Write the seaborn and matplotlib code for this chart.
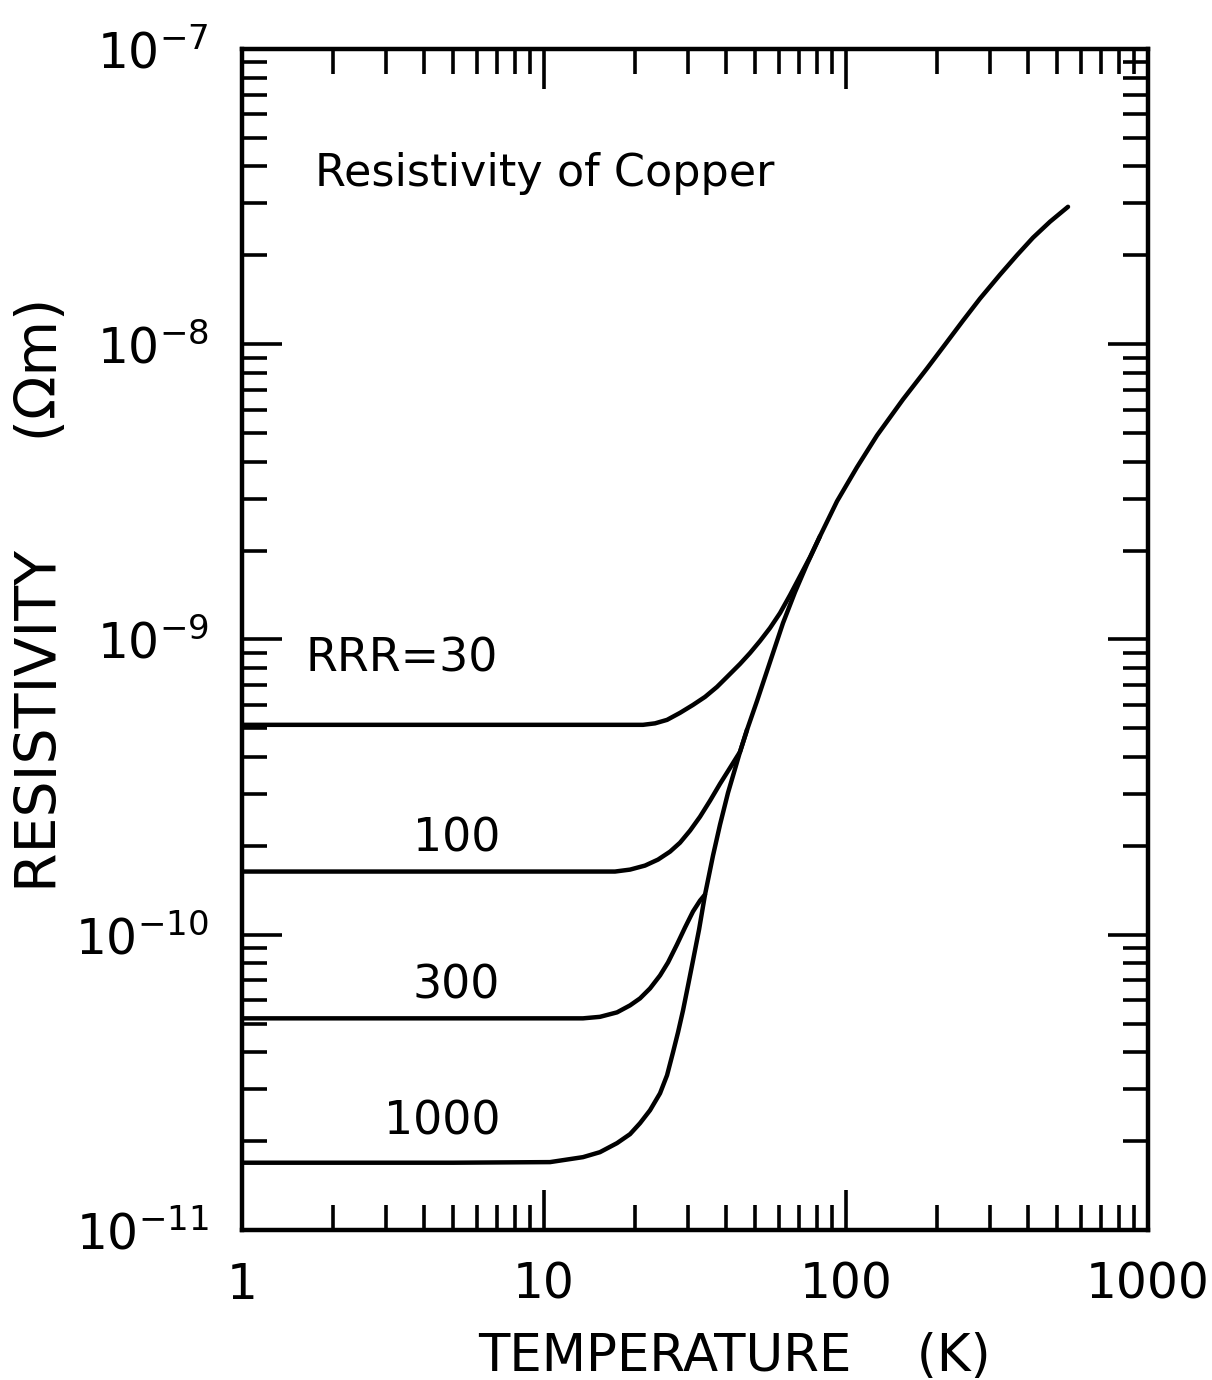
import numpy as np
import pandas as pd
import matplotlib
matplotlib.use("Agg")
import matplotlib.pyplot as plt
import seaborn as sns
from matplotlib.ticker import FixedLocator, FixedFormatter, LogLocator, NullFormatter

# ---------------- data ----------------
# RRR = 1000 curve (it also carries the common high-temperature branch)
t_1000 = [1.0, 5.0, 10.47, 13.46, 15.32, 17.45, 19.27, 20.79, 22.44, 24.22, 25.55,
          26.74, 27.78, 28.86, 29.99, 31.14, 32.61, 34.13, 36.27, 38.26, 40.67,
          42.91, 44.57, 47.01, 50.74, 56.02, 61.85, 67.78, 74.28, 82.02, 93.37,
          108.7, 126.7, 154.4, 185.4, 212.8, 244.1, 277.8, 323.6, 368.3, 416.1,
          473.8, 543.4]
r_1000 = [1.69e-11, 1.69e-11, 1.698e-11, 1.765e-11, 1.835e-11, 1.969e-11, 2.112e-11,
          2.300e-11, 2.544e-11, 2.904e-11, 3.343e-11, 3.999e-11, 4.672e-11, 5.544e-11,
          6.738e-11, 8.181e-11, 1.041e-10, 1.368e-10, 1.854e-10, 2.359e-10, 3.027e-10,
          3.648e-10, 4.165e-10, 4.943e-10, 6.194e-10, 8.393e-10, 1.137e-9, 1.447e-9,
          1.799e-9, 2.239e-9, 2.939e-9, 3.831e-9, 4.914e-9, 6.503e-9, 8.279e-9,
          9.979e-9, 1.203e-8, 1.428e-8, 1.721e-8, 2.003e-8, 2.296e-8, 2.601e-8,
          2.921e-8]

t_300 = [1.0, 13.46, 15.32, 17.45, 19.27, 20.79, 22.44, 24.22, 25.74, 27.56,
         29.30, 31.14, 32.85, 34.13]
r_300 = [5.21e-11, 5.21e-11, 5.272e-11, 5.459e-11, 5.765e-11, 6.087e-11, 6.580e-11,
         7.281e-11, 8.056e-11, 9.268e-11, 1.058e-10, 1.199e-10, 1.305e-10, 1.368e-10]

t_100 = [1.0, 17.18, 19.27, 21.60, 23.85, 26.14, 28.20, 30.44, 32.85, 35.45, 38.26,
         41.30, 44.57, 47.01]
r_100 = [1.637e-10, 1.637e-10, 1.662e-10, 1.715e-10, 1.797e-10, 1.912e-10, 2.050e-10,
         2.252e-10, 2.510e-10, 2.843e-10, 3.245e-10, 3.676e-10, 4.165e-10, 4.943e-10]

t_30 = [1.0, 21.27, 23.31, 25.55, 28.20, 31.14, 34.13, 37.39, 40.67, 44.57, 48.10,
        51.90, 56.02, 60.46, 65.26, 70.42, 76.00, 82.02]
r_30 = [5.14e-10, 5.14e-10, 5.200e-10, 5.343e-10, 5.643e-10, 6.004e-10, 6.391e-10,
        6.909e-10, 7.525e-10, 8.265e-10, 9.001e-10, 9.883e-10, 1.094e-9, 1.229e-9,
        1.414e-9, 1.639e-9, 1.901e-9, 2.239e-9]

curve_names = ["1000", "300", "100", "30"]

x_ticks = [1, 10, 100, 1000]
x_tick_labels = ["1", "10", "100", "1000"]
y_ticks = [1e-11, 1e-10, 1e-9, 1e-8, 1e-7]
y_tick_labels = [r"$10^{-11}$", r"$10^{-10}$", r"$10^{-9}$", r"$10^{-8}$", r"$10^{-7}$"]

title_text = "Resistivity of Copper"
label_texts = ["RRR=30", "100", "300", "1000"]
label_x = [1.62, 7.15, 7.15, 7.15]
label_y = [8.6e-10, 2.11e-10, 6.7e-11, 2.32e-11]

# ---------------- build table ----------------
frames = []
for name, t, r in zip(curve_names, [t_1000, t_300, t_100, t_30],
                      [r_1000, r_300, r_100, r_30]):
    frames.append(pd.DataFrame({"T": t, "rho": r, "RRR": name}))
df = pd.concat(frames, ignore_index=True)

# ---------------- figure ----------------
sns.set_theme(style="white")
plt.rcParams["font.family"] = ["DejaVu Sans"]
plt.rcParams["mathtext.fontset"] = "dejavusans"
for key in ["text.color", "axes.labelcolor", "xtick.color", "ytick.color",
            "axes.edgecolor"]:
    plt.rcParams[key] = "black"

fig = plt.figure(figsize=(12.12, 13.8), dpi=100)
ax = fig.add_axes([0.1997, 0.1087, 0.7475, 0.8558])

sns.lineplot(data=df, x="T", y="rho", units="RRR", estimator=None, sort=False,
             color="black", linewidth=3.2, ax=ax, legend=False)
for ln in ax.lines:
    ln.set_solid_capstyle("round")
    ln.set_solid_joinstyle("round")

ax.set_xscale("log")
ax.set_yscale("log")
ax.set_xlim(1, 1000)
ax.set_ylim(1e-11, 1e-7)

ax.xaxis.set_major_locator(FixedLocator(x_ticks))
ax.xaxis.set_major_formatter(FixedFormatter(x_tick_labels))
ax.xaxis.set_minor_locator(LogLocator(base=10, subs=np.arange(2, 10)))
ax.xaxis.set_minor_formatter(NullFormatter())
ax.yaxis.set_major_locator(FixedLocator(y_ticks))
ax.yaxis.set_major_formatter(FixedFormatter(y_tick_labels))
ax.yaxis.set_minor_locator(LogLocator(base=10, subs=np.arange(2, 10)))
ax.yaxis.set_minor_formatter(NullFormatter())

ax.tick_params(which="both", direction="in", top=True, right=True, bottom=True,
               left=True, color="black", width=2.6)
ax.tick_params(which="major", length=29)
ax.tick_params(which="minor", length=18)
ax.tick_params(axis="x", which="major", pad=22, labelsize=35)
ax.tick_params(axis="y", which="major", pad=24, labelsize=35)

for sp in ax.spines.values():
    sp.set_color("black")
    sp.set_linewidth(3.2)

ax.set_xlabel("TEMPERATURE    (K)", fontsize=37)
ax.set_ylabel("RESISTIVITY      (Ωm)", fontsize=41)
ax.xaxis.set_label_coords(0.543, -0.086)
ax.yaxis.set_label_coords(-0.191, 0.538)

ax.text(1.74, 3.8e-8, title_text, fontsize=32, ha="left", va="center")
ax.text(label_x[0], label_y[0], label_texts[0], fontsize=33, ha="left", va="center")
for i in range(1, 4):
    ax.text(label_x[i], label_y[i], label_texts[i], fontsize=33, ha="right", va="center")

fig.savefig("out.png", dpi=100, facecolor="white")
